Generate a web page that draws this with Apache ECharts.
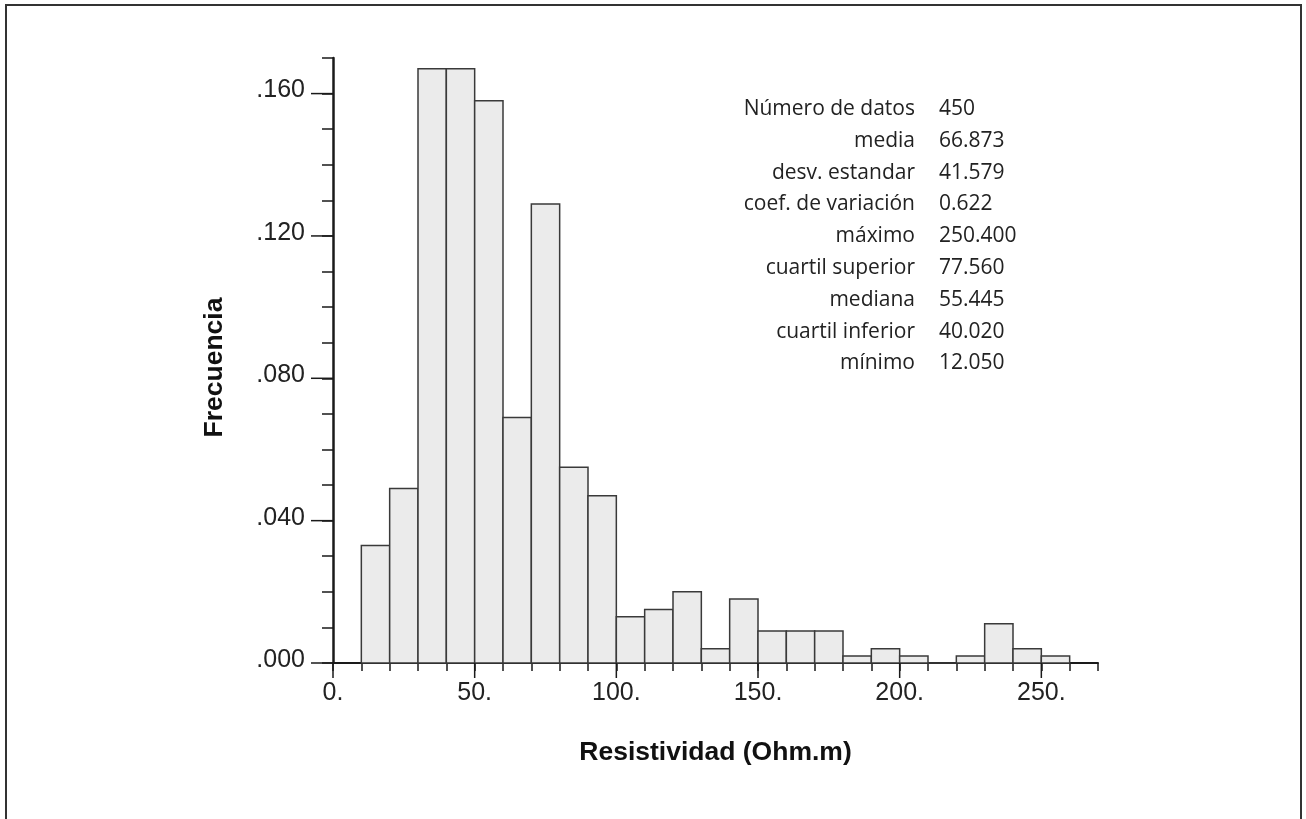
<!DOCTYPE html>
<html>
<head>
<meta charset="utf-8">
<script src="https://cdn.jsdelivr.net/npm/echarts@6/dist/echarts.min.js"></script>
<style>
html,body{margin:0;padding:0;background:#fff;}
#c{width:1306px;height:819px;}
</style>
</head>
<body>
<div id="c"></div>
<script>
// Histogram bins (lower edge, upper edge) and relative frequencies
const binLower = [10,20,30,40,50,60,70,80,90,100,110,120,130,140,150,160,170,180,190,200,210,220,230,240,250];
const binWidth = 10;
const frequency = [0.033,0.049,0.167,0.167,0.158,0.069,0.129,0.055,0.047,0.013,0.015,0.020,0.004,0.018,0.009,0.009,0.009,0.002,0.004,0.002,0.000,0.002,0.011,0.004,0.002];
// Tick labels
const xMajorTicks = [0,50,100,150,200,250];
const yMajorTicks = [0,0.04,0.08,0.12,0.16];
// Summary statistics
const statNames = ['Número de datos','media','desv. estandar','coef. de variación','máximo','cuartil superior','mediana','cuartil inferior','mínimo'];
const statValues = ['450','66.873','41.579','0.622','250.400','77.560','55.445','40.020','12.050'];

const histData = binLower.map((lo, i) => [lo, lo + binWidth, frequency[i]]);

const GRID = {left:333, right:208, top:58, bottom:156};

const chart = echarts.init(document.getElementById('c'));
const axisColor = '#1a1a1a';
const labelFont = {fontFamily: 'Liberation Sans, Arial, sans-serif', fontSize: 25, color: '#222'};
const titleFont = {fontFamily: 'Liberation Sans, Arial, sans-serif', fontWeight: 'bold', color: '#111'};

const graphics = [
  {type:'rect', shape:{x:6, y:5, width:1295, height:840}, style:{fill:'none', stroke:'#333', lineWidth:2}, silent:true}
];
statNames.forEach((n, i) => {
  const y = 109 + i * 31.8;
  graphics.push({type:'text', x:915, y:y, style:{text:n, align:'right', verticalAlign:'middle', font:'21px "Open Sans", sans-serif', fill:'#222'}});
  graphics.push({type:'text', x:939, y:y, style:{text:statValues[i], align:'left', verticalAlign:'middle', font:'21px "Open Sans", sans-serif', fill:'#222'}});
});

const histRender = function(params, api){
  const p0 = api.coord([api.value(0), api.value(2)]);
  const p1 = api.coord([api.value(1), 0]);
  return {
    type:'rect',
    shape:{x:p0[0], y:p0[1], width:p1[0]-p0[0], height:p1[1]-p0[1]},
    style:{fill:'#ebebeb', stroke:'#3a3a3a', lineWidth:1.5}
  };
};

chart.setOption({
  animation:false,
  backgroundColor:'#fff',
  grid:Object.assign({containLabel:false}, GRID),
  xAxis:{
    type:'value', min:0, max:270, interval:10, position:'bottom',
    name:'Resistividad (Ohm.m)', nameLocation:'middle', nameGap:76,
    nameTextStyle:Object.assign({fontSize:26.5}, titleFont),
    axisLine:{show:true, onZero:false, lineStyle:{color:axisColor, width:2}},
    axisTick:{show:true, length:8, lineStyle:{color:axisColor, width:1.5}},
    axisLabel:Object.assign({customValues:xMajorTicks, formatter:v => v + '.', margin:18}, labelFont),
    splitLine:{show:false}
  },
  yAxis:{
    type:'value', min:0, max:0.17, interval:0.01, position:'left',
    name:'Frecuencia', nameLocation:'middle', nameGap:105, nameRotate:90,
    nameTextStyle:Object.assign({fontSize:26.5, padding:[0,14,0,0]}, titleFont),
    axisLine:{show:true, onZero:false, lineStyle:{color:axisColor, width:2.5}},
    axisTick:{show:true, length:11, lineStyle:{color:axisColor, width:1.5}},
    axisLabel:Object.assign({customValues:yMajorTicks, formatter:v => v.toFixed(3).replace(/^0/, ''), margin:28, verticalAlign:'bottom', lineHeight:6}, labelFont),
    splitLine:{show:false}
  },
  graphic:graphics,
  series:[{
    type:'custom',
    data:histData,
    renderItem:histRender,
    z:2
  }]
});

// long (major) ticks, positioned through the chart's own axis scales
const tickEls = [];
xMajorTicks.forEach(v => {
  const p = chart.convertToPixel({gridIndex:0}, [v, 0]);
  tickEls.push({type:'line', shape:{x1:p[0], y1:p[1], x2:p[0], y2:p[1] + 15}, style:{stroke:axisColor, lineWidth:1.5}, silent:true, z:5});
});
yMajorTicks.forEach(v => {
  const p = chart.convertToPixel({gridIndex:0}, [0, v]);
  tickEls.push({type:'line', shape:{x1:p[0] - 22, y1:p[1], x2:p[0], y2:p[1]}, style:{stroke:axisColor, lineWidth:1.5}, silent:true, z:5});
});
chart.setOption({graphic:graphics.concat(tickEls)});
</script>
</body>
</html>
